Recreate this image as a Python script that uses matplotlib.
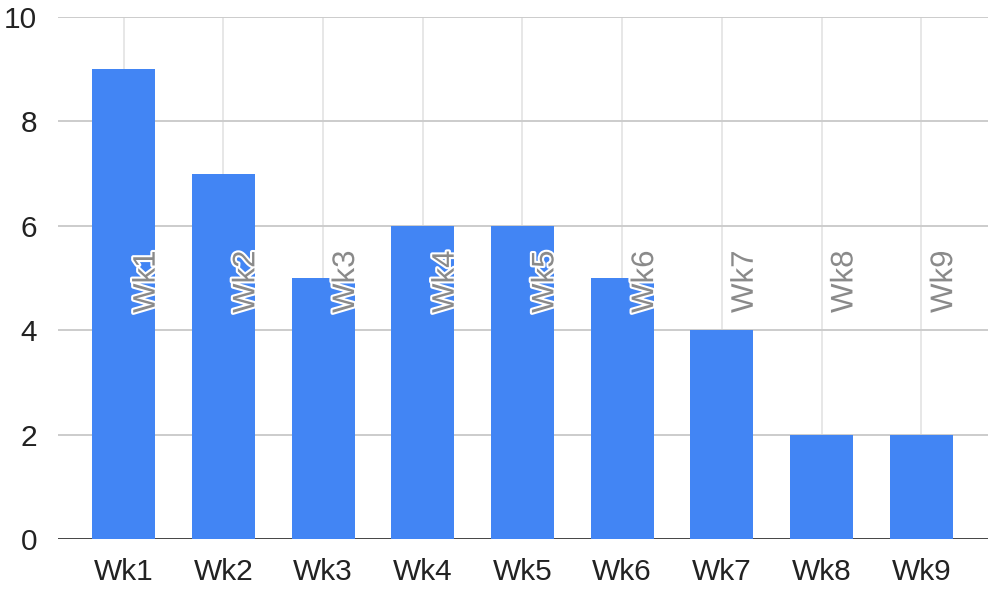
import matplotlib
matplotlib.use("Agg")
import matplotlib.pyplot as plt
import matplotlib.patheffects as pe

weeks = ["Wk1", "Wk2", "Wk3", "Wk4", "Wk5", "Wk6", "Wk7", "Wk8", "Wk9"]
counts = [9, 7, 5, 6, 6, 5, 4, 2, 2]
yticks = [0, 2, 4, 6, 8, 10]

plt.rcParams["font.family"] = ["Liberation Sans", "DejaVu Sans"]

fig = plt.figure(figsize=(9.88, 5.90), dpi=100)
ax = fig.add_axes([0.0587, 0.0864, 0.9413, 0.8848])

x = list(range(len(weeks)))

# light vertical lines at each category
for xi in x:
    ax.axvline(xi, color="#e3e3e3", linewidth=1.2, zorder=0)
for yv in yticks[1:]:
    ax.axhline(yv, color="#cccccc", linewidth=1.4, zorder=0)

ax.bar(x, counts, width=0.63, color="#4285F4", zorder=2)
ax.axhline(0, color="#333333", linewidth=2, zorder=1)

# rotated category labels inside the plot
for xi, w in zip(x, weeks):
    ax.text(xi + 0.23, 4.33, w, rotation=90, ha="center", va="bottom",
            fontsize=22.5, color="#8a8a8a", zorder=3,
            path_effects=[pe.withStroke(linewidth=3, foreground="white")])

ax.set_xlim(-0.66, 8.67)
ax.set_ylim(0, 10)
ax.set_xticks(x)
ax.set_xticklabels(weeks)
ax.set_yticks(yticks)
ax.tick_params(axis="both", length=0, labelsize=21.5, colors="#222222")
ax.tick_params(axis="x", pad=14)
ax.tick_params(axis="y", pad=15)
for s in ax.spines.values():
    s.set_visible(False)

fig.savefig("out.png", dpi=100, facecolor="white")
